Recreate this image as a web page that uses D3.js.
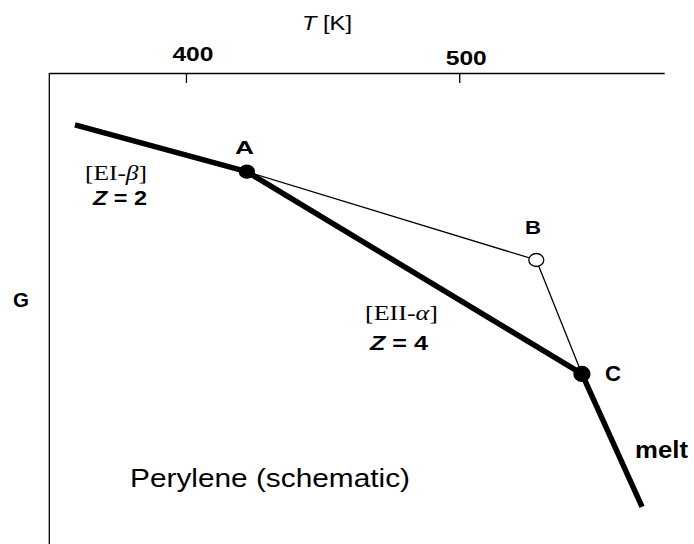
<!DOCTYPE html>
<html>
<head>
<meta charset="utf-8">
<script src="https://cdn.jsdelivr.net/npm/d3@7"></script>
<style>
  body { margin: 0; background: #fff; }
  svg { display: block; }
  text { font-family: "Liberation Sans", Arial, sans-serif; fill: #000; }
</style>
</head>
<body>
<div id="chart"></div>
<script>
// temperature ticks on the top axis
const tTicks = [400, 500];

// G curves (arbitrary units, schematic), T in K
const phaseI = [[359.4, -11.0], [422.3, -20.95]];     // EI-beta, Z = 2
const phaseII = [[422.3, -20.95], [544.9, -63.9]];    // EII-alpha, Z = 4
const meltLine = [[544.9, -63.9], [566.9, -92.1]];
const metastable = [[422.3, -20.95], [528.2, -39.7], [544.9, -63.9]]; // A - B - C

// labelled points
const pointNames = ['A', 'B', 'C'];
const pointT = [422.3, 528.2, 544.9];
const pointG = [-20.95, -39.7, -63.9];
const pointOpen = [false, true, false];

const points = pointNames.map((name, i) => ({
  name, T: pointT[i], G: pointG[i], open: pointOpen[i]
}));

const width = 694, height = 544;

const svg = d3.select('#chart').append('svg')
  .attr('width', width)
  .attr('height', height);

const x = d3.scaleLinear()
  .domain([350, 575])
  .range([49.3, 664.2]);

const y = d3.scaleLinear()
  .domain([0, -100])
  .range([73, 544]);

// text helper, the scanned lettering is a bit wider than the font
function label(px, py, w, size, opts) {
  opts = opts || {};
  const t = svg.append('text')
    .attr('x', px)
    .attr('y', py)
    .style('font-size', size + 'px')
    .style('font-weight', opts.bold ? 'bold' : 'normal');
  if (opts.serif) t.style('font-family', '"Liberation Serif", "Times New Roman", serif');
  if (w) t.attr('textLength', w).attr('lengthAdjust', 'spacingAndGlyphs');
  return t;
}

// top axis, ticks point inward
const xAxis = d3.axisTop(x)
  .tickValues(tTicks)
  .tickSize(-10)
  .tickSizeOuter(0)
  .tickPadding(0);

const gx = svg.append('g')
  .attr('transform', `translate(0,${y(0)})`)
  .call(xAxis);
gx.select('.domain').attr('stroke', '#000').attr('stroke-width', 1.3);
gx.selectAll('.tick line').attr('stroke', '#000').attr('stroke-width', 1.3);
gx.selectAll('.tick text')
  .attr('y', d => d === 400 ? -12 : -8)
  .attr('dx', 6.5)
  .attr('textLength', 41)
  .attr('lengthAdjust', 'spacingAndGlyphs')
  .style('font-size', '20px')
  .style('font-weight', 'bold')
  .style('font-family', '"Liberation Sans", Arial, sans-serif');

// left axis, just a line
svg.append('line')
  .attr('x1', x(350)).attr('x2', x(350))
  .attr('y1', y(0)).attr('y2', y(-100))
  .attr('stroke', '#000')
  .attr('stroke-width', 1.3);

// axis titles
const tTitle = label(302, 30, 50, 21);
tTitle.append('tspan').style('font-style', 'italic').text('T');
tTitle.append('tspan').text(' [K]');

label(13, 307, 16, 21, {bold: true}).text('G');

const line = d3.line()
  .x(d => x(d[0]))
  .y(d => y(d[1]));

// thin metastable path A-B-C
svg.append('path')
  .datum(metastable)
  .attr('d', line)
  .attr('fill', 'none')
  .attr('stroke', '#000')
  .attr('stroke-width', 1.3);

// thick stable branches
[phaseI, phaseII, meltLine].forEach(seg => {
  svg.append('path')
    .datum(seg)
    .attr('d', line)
    .attr('fill', 'none')
    .attr('stroke', '#000')
    .attr('stroke-width', 5.5)
    .attr('stroke-linecap', 'butt');
});

svg.selectAll('.pt')
  .data(points)
  .enter().append('ellipse')
  .attr('class', 'pt')
  .attr('cx', d => x(d.T))
  .attr('cy', d => y(d.G))
  .attr('rx', d => d.name === 'C' ? 8 : 7.5)
  .attr('ry', d => d.name === 'C' ? 7.5 : 6.5)
  .attr('fill', d => d.open ? '#fff' : '#000')
  .attr('stroke', '#000')
  .attr('stroke-width', 1.3);

// point labels
label(235, 154, 19, 19, {bold: true}).text('A');
label(525, 234, 16, 19, {bold: true}).text('B');
label(605, 381, 16, 22, {bold: true}).text('C');

// phase labels
function phaseLabel(px, py, w, roman, greek) {
  const t = label(px, py, w, 22, {serif: true});
  t.append('tspan').text('[E' + roman + '-');
  t.append('tspan').style('font-style', 'italic').text(greek);
  t.append('tspan').text(']');
}
function zLabel(px, py, w, z) {
  const t = label(px, py, w, 21, {bold: true});
  t.append('tspan').style('font-style', 'italic').text('Z');
  t.append('tspan').text(' = ' + z);
}
phaseLabel(85, 180, 62, 'I', 'β');
zLabel(93, 205, 54, 2);
phaseLabel(365, 320, 73, 'II', 'α');
zLabel(370, 350, 58, 4);

label(130, 487, 280, 25).text('Perylene (schematic)');

label(635, 458, 53, 23, {bold: true}).text('melt');
</script>
</body>
</html>
